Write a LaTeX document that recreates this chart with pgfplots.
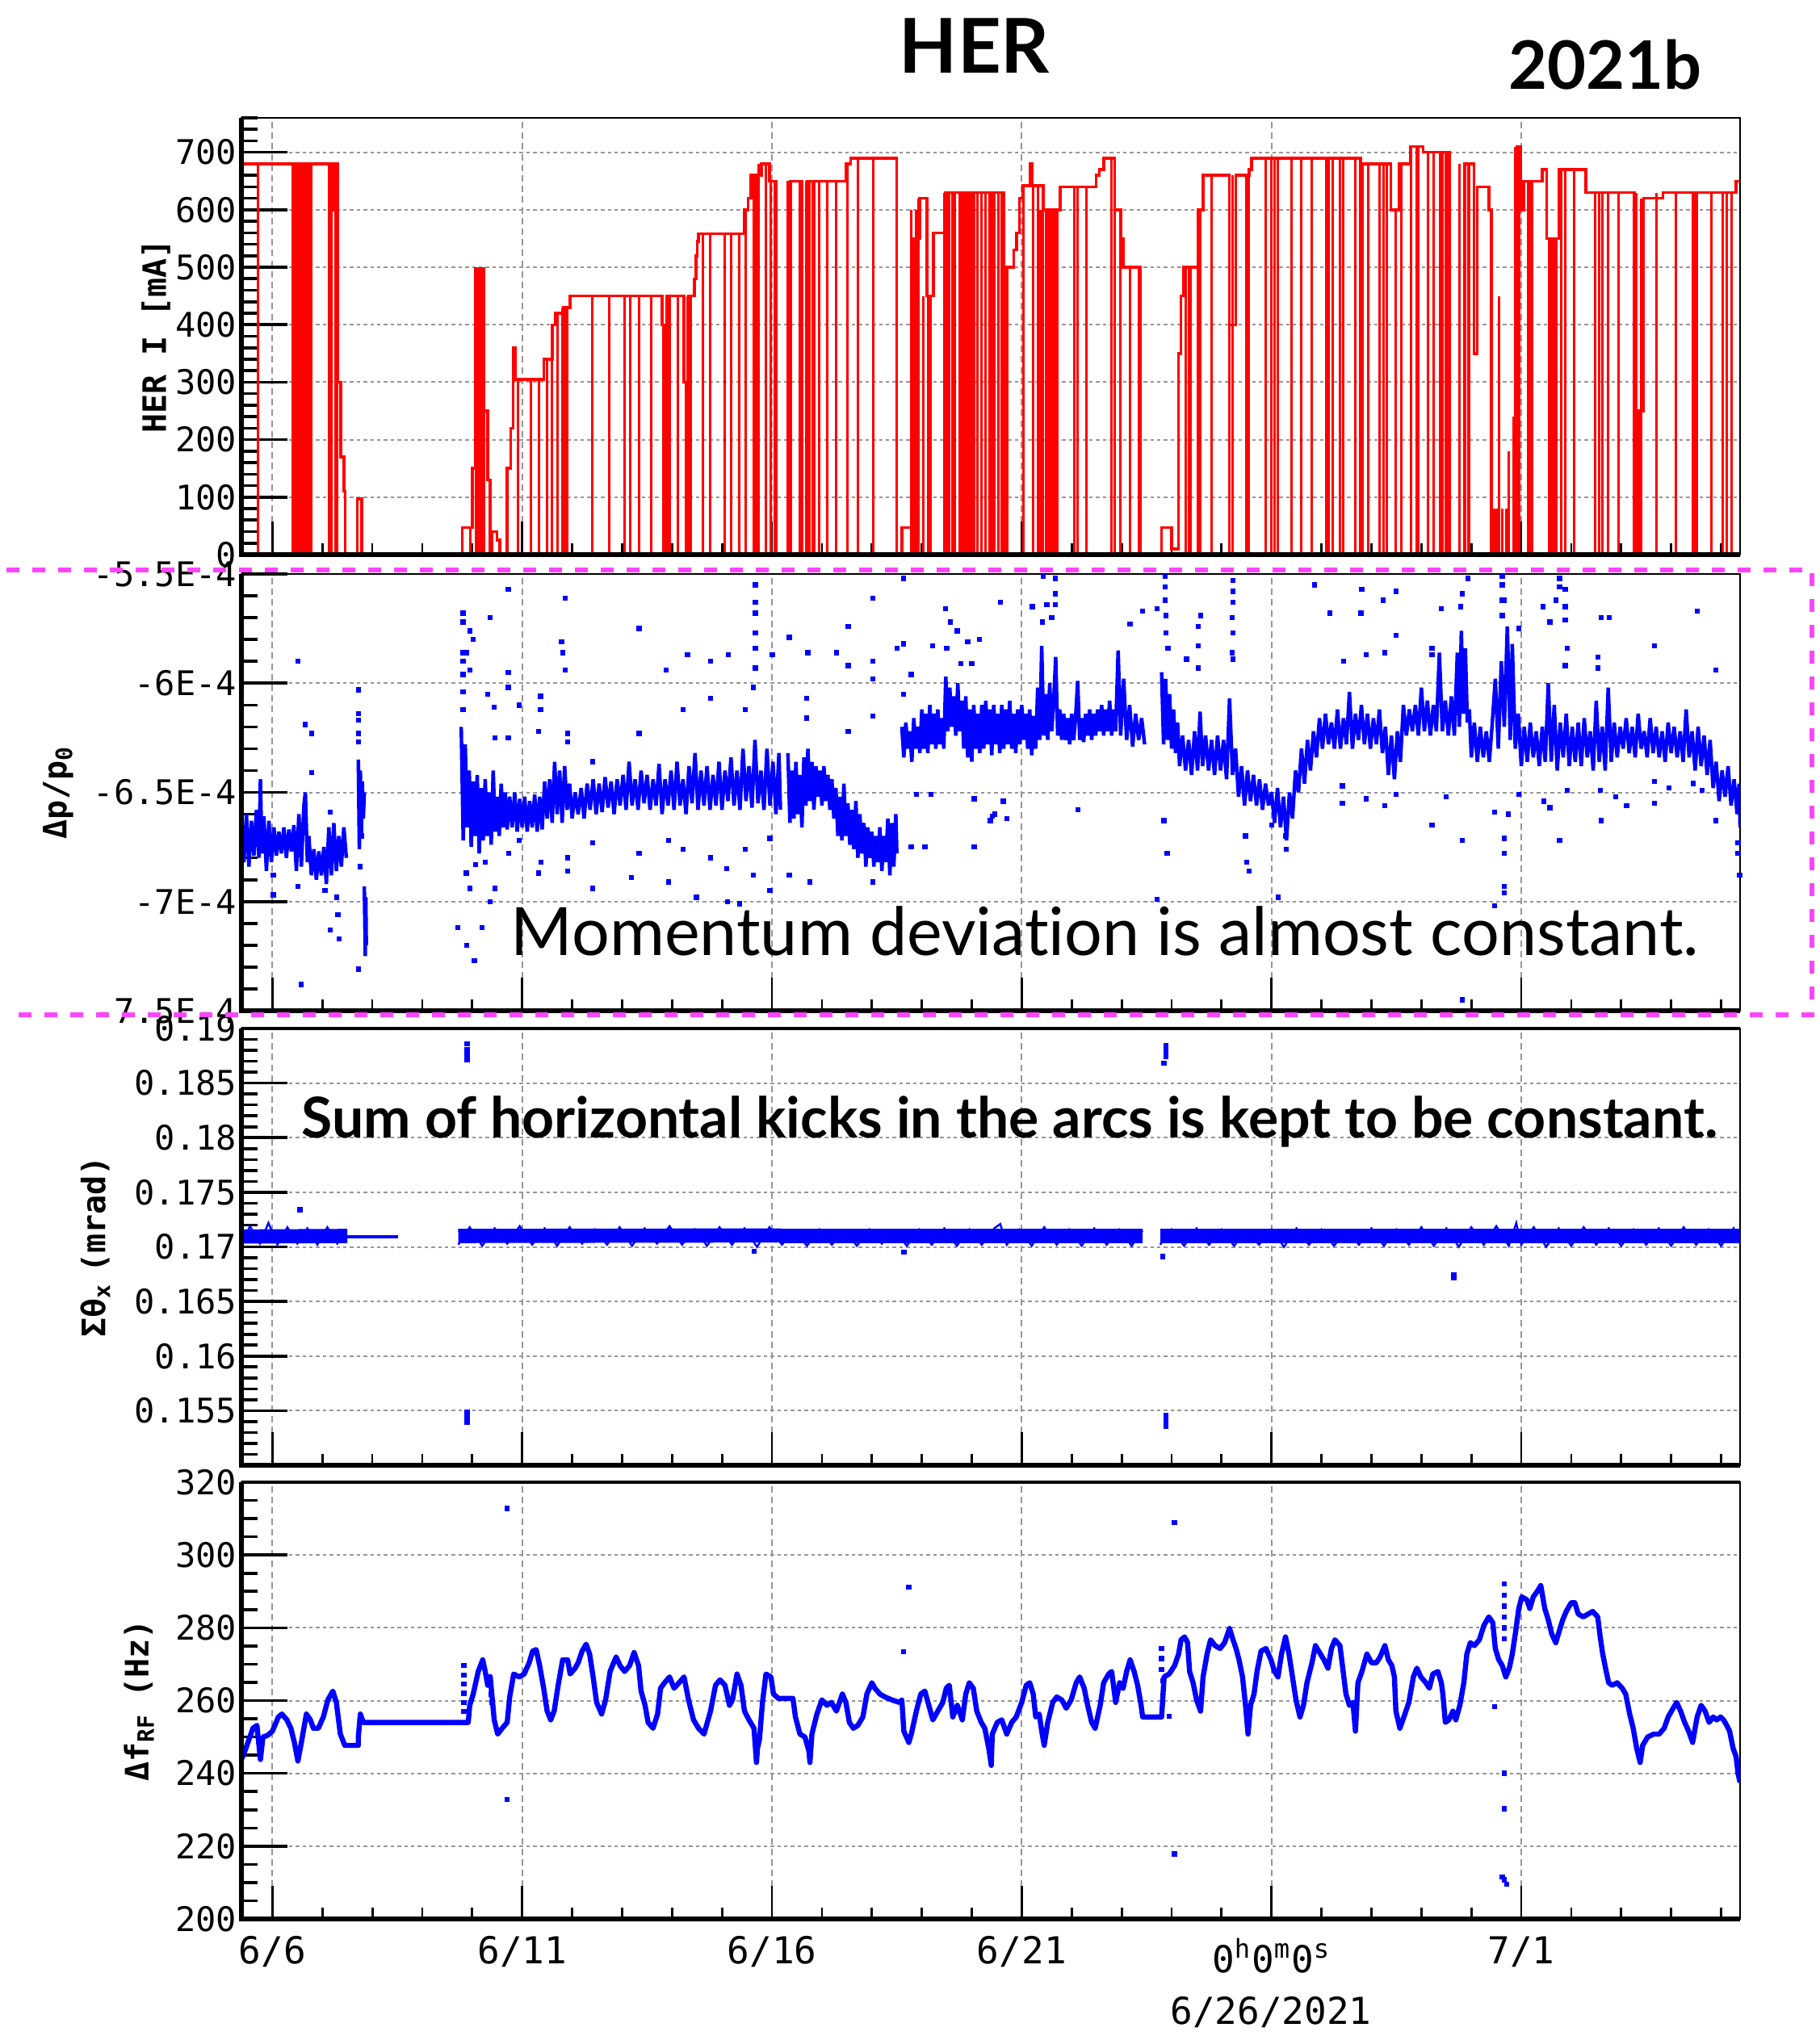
\documentclass[border=0pt]{standalone}
\usepackage{fontspec}
\usepackage{pgfplots}
\pgfplotsset{compat=1.18}
\newfontfamily\monofont{DejaVu Sans Mono}
\newfontfamily\latofont{Lato}[Ligatures=NoCommon]
\definecolor{gridgray}{RGB}{150,150,150}
\definecolor{boxmag}{RGB}{255,68,255}
\definecolor{herred}{RGB}{255,0,0}
\definecolor{herblue}{RGB}{0,0,255}

\pgfplotsset{
  herpanel/.style={
    scale only axis, width=464pt, height=135.25pt,
    xmin=-0.62, xmax=29.38,
    xtick={0,5,10,15,20,25},
    minor xtick={1,2,3,4,6,7,8,9,11,12,13,14,16,17,18,19,21,22,23,24,26,27,28,29},
    xtick pos=left, ytick pos=left, tick align=inside,
    xtick style={/pgfplots/major tick length=10.25pt, /pgfplots/minor tick length=3.6pt, line width=0.7pt, black},
    ytick style={/pgfplots/major tick length=14.25pt, /pgfplots/minor tick length=5pt, line width=0.9pt, black},
    xmajorgrids, ymajorgrids,
    x grid style={gridgray, line width=0.5pt, dash pattern=on 2pt off 1.3pt},
    y grid style={gridgray, line width=0.5pt, dash pattern=on 1.1pt off 1pt},
    axis line style={line width=0.6pt, black},
    xticklabels={},
    yticklabel style={font=\monofont\fontsize{10.5}{12}\selectfont, inner sep=0pt, xshift=-1.3pt},
    ylabel style={font=\monofont\bfseries\fontsize{10}{12}\selectfont, anchor=center},
  },
  outliers/.style={only marks, mark=square*, mark size=0.6pt, herblue, mark options={draw=herblue, fill=herblue}},
  band/.style={herblue, line width=1.1pt, line join=bevel, mark=none},
}

\begin{document}
\begin{tikzpicture}
\useasboundingbox (0,0) rectangle (563.25pt,-630.5pt);

% ---------------- beam current ----------------
\begin{axis}[herpanel, name=p1, at={(74.75pt,-36.5pt)}, anchor=north west,
  ymin=0, ymax=760, ytick={0,100,...,700}, yticklabels={0,100,200,300,400,500,600,700},
  minor ytick={20,40,...,760},
  ylabel={HER I [mA]}, ylabel style={at={(axis description cs:-0.0571,0.5)}}]
\addplot[const plot, herred, line width=0.85pt, mark=none] coordinates {
(-0.62,430) (-0.60,680) (0.73,0) (0.78,680) (1.16,600) (1.21,680) (1.31,300) (1.37,170)
(1.43,110) (1.46,0) (1.70,97) (1.79,0) (3.80,47) (4.00,150) (4.07,498) (4.24,250) (4.31,130)
(4.36,0) (4.40,40) (4.50,25) (4.55,0) (4.70,150) (4.77,220) (4.82,360) (4.87,305) (5.43,340)
(5.60,400) (5.67,420) (5.83,430) (5.96,450) (7.80,400) (7.85,0) (7.90,450) (8.24,300) (8.28,0)
(8.33,450) (8.45,480) (8.48,520) (8.50,545) (8.53,558) (9.45,600) (9.52,620) (9.58,660)
(9.79,680) (9.95,650) (10.08,0) (10.37,650) (10.60,0) (10.71,650) (11.48,680) (11.58,690)
(12.50,0) (12.60,47) (12.80,0) (12.84,550) (12.96,620) (13.10,450) (13.23,560) (13.47,630)
(14.36,630) (14.65,0) (14.70,500) (14.84,530) (14.90,560) (14.95,620) (15.02,642) (15.17,680)
(15.21,642) (15.43,600) (15.77,640) (16.49,660) (16.55,670) (16.64,690) (16.86,600) (16.98,550)
(17.03,500) (17.37,0) (17.80,47) (18.00,10) (18.14,350) (18.19,450) (18.24,500) (18.53,600)
(18.63,660) (19.16,400) (19.29,660) (19.55,670) (19.60,690) (21.78,680) (22.39,600) (22.56,680)
(22.78,710) (23.04,700) (23.57,0) (23.87,680) (24.05,350) (24.12,640) (24.35,600) (24.40,0)
(24.91,710) (24.98,600) (25.05,650) (25.42,670) (25.51,550) (25.76,670) (26.29,630) (27.26,0)
(27.35,250) (27.45,620) (27.84,630) (29.30,650) (29.38,650)
};
\addplot[ycomb, herred, line width=0.75pt, mark=none] coordinates {
(-0.29,680) (0.40,680) (0.43,680) (0.46,680) (0.49,680) (0.52,680) (0.55,680) (0.58,680)
(0.61,680) (0.64,680) (0.67,680) (0.70,680) (0.78,680) (1.14,680) (1.19,680) (1.26,680)
(1.29,680) (3.97,47) (4.08,498) (4.11,498) (4.14,498) (4.17,498) (4.20,498) (4.23,498)
(4.92,305) (5.18,305) (5.33,305) (5.50,340) (5.60,340) (5.70,420) (5.81,430) (5.86,430)
(5.91,430) (6.40,450) (7.17,450) (7.34,450) (7.58,450) (7.83,400) (7.95,450) (8.12,450)
(8.31,450) (8.38,450) (8.62,558) (8.77,558) (9.06,558) (9.19,558) (9.35,558) (9.47,600)
(9.64,660) (9.69,660) (9.74,680) (9.88,680) (9.98,650) (10.06,650) (10.32,650) (10.56,650)
(10.69,650) (10.75,650) (10.81,650) (10.85,650) (11.29,650) (11.51,680) (11.72,690) (12.02,690)
(12.50,690) (12.79,600) (12.89,600) (12.94,620) (13.03,450) (13.13,450) (13.18,450) (13.45,630)
(13.50,630) (13.55,630) (13.62,630) (13.66,630) (13.76,630) (13.80,630) (13.85,630) (13.90,630)
(13.95,630) (14.00,630) (14.05,630) (14.12,630) (14.20,630) (14.28,630) (14.35,630) (14.41,630)
(14.46,630) (14.53,630) (14.60,630) (15.04,642) (15.23,642) (15.33,642) (15.38,600) (15.43,600)
(15.48,600) (15.52,600) (15.57,600) (15.62,600) (15.67,600) (15.71,600) (16.06,640) (16.11,640)
(16.80,690) (16.86,690) (16.98,600) (17.17,500) (17.35,500) (18.28,500) (18.34,500) (18.38,500)
(18.53,600) (18.58,600) (18.80,660) (19.16,660) (19.22,660) (19.50,660) (19.55,670) (19.89,690)
(19.99,690) (20.06,690) (20.13,690) (20.81,690) (21.10,690) (21.15,690) (21.23,690) (21.37,690)
(21.44,690) (21.68,690) (21.78,690) (21.83,680) (21.93,680) (22.17,680) (22.24,680) (22.31,680)
(22.49,600) (22.60,680) (22.80,710) (22.90,710) (22.94,710) (23.14,700) (23.38,700) (23.43,700)
(23.48,700) (23.52,700) (23.57,700) (23.77,680) (23.94,680) (23.96,680) (24.45,80) (24.50,80)
(24.55,450) (24.62,80) (24.70,80) (24.75,180) (24.85,240) (24.88,710) (24.92,710) (24.96,710)
(25.13,650) (25.17,650) (25.22,650) (25.56,550) (25.61,550) (25.66,550) (25.71,550) (25.80,670)
(25.88,670) (26.48,630) (26.56,630) (26.63,630) (26.73,630) (27.31,630) (27.40,620) (28.43,630)
(28.48,630) (28.52,630) (29.03,630) (29.12,630) (29.21,630)
(2.40,0) (6.75,450) (7.05,450) (10.95,650) (11.10,650) (16.30,640) (20.40,690) (20.60,690)
(23.25,700) (26.05,670) (26.95,630) (27.70,630) (28.10,630) (28.80,630)
};
\end{axis}
\draw[line width=1.4pt] (p1.north west) -- (p1.south west) -- (p1.south east);

% ---------------- momentum deviation (units of 1E-4) ----------------
\begin{axis}[herpanel, name=p2, at={(74.75pt,-177.75pt)}, anchor=north west,
  ymin=-7.5, ymax=-5.5, ytick={-7.5,-7,-6.5,-6,-5.5},
  yticklabels={-7.5E-4,-7E-4,-6.5E-4,-6E-4,-5.5E-4},
  minor ytick={-7.5,-7.4,...,-5.5},
  ylabel={Δp/p\textsubscript{0}}, ylabel style={at={(axis description cs:-0.1223,0.5)}}]
\addplot[band] coordinates {
(-0.62,-6.62) (-0.57,-6.82) (-0.52,-6.60) (-0.47,-6.84) (-0.42,-6.63) (-0.37,-6.79) (-0.32,-6.58)
(-0.27,-6.80) (-0.24,-6.44) (-0.21,-6.78) (-0.17,-6.61) (-0.12,-6.86) (-0.07,-6.63) (-0.02,-6.82)
(0.03,-6.66) (0.08,-6.79) (0.13,-6.68) (0.18,-6.78) (0.23,-6.66) (0.28,-6.80) (0.33,-6.67)
(0.38,-6.77) (0.43,-6.65) (0.48,-6.86) (0.53,-6.60) (0.58,-6.84) (0.63,-6.56) (0.66,-6.50)
(0.70,-6.82) (0.73,-6.70) (0.78,-6.88) (0.83,-6.76) (0.88,-6.90) (0.93,-6.77) (0.98,-6.88)
(1.03,-6.75) (1.08,-6.92) (1.13,-6.66) (1.18,-6.88) (1.23,-6.64) (1.28,-6.86) (1.33,-6.70)
(1.38,-6.84) (1.43,-6.66) (1.48,-6.80)
};
\addplot[band] coordinates {
(1.72,-6.35) (1.74,-6.76) (1.76,-6.40) (1.78,-6.70) (1.80,-6.45) (1.82,-6.62) (1.84,-6.50)
};
\addplot[band] coordinates {
(1.84,-6.93) (1.86,-7.25) (1.87,-6.98) (1.88,-7.20)
};
\addplot[band] coordinates {
(3.78,-6.20) (3.82,-6.72) (3.86,-6.28) (3.90,-6.66) (3.94,-6.40) (3.98,-6.75) (4.02,-6.45)
(4.06,-6.70) (4.10,-6.42) (4.14,-6.78) (4.18,-6.48) (4.22,-6.72) (4.26,-6.44) (4.30,-6.70)
(4.34,-6.50) (4.38,-6.74) (4.42,-6.40) (4.46,-6.68) (4.50,-6.52) (4.54,-6.70) (4.58,-6.46)
(4.62,-6.66) (4.66,-6.50) (4.70,-6.67) (4.75,-6.52) (4.80,-6.66) (4.85,-6.50) (4.90,-6.68)
(4.95,-6.53) (5.00,-6.66) (5.05,-6.52) (5.10,-6.68) (5.15,-6.54) (5.20,-6.66) (5.25,-6.51)
(5.30,-6.68) (5.35,-6.52) (5.40,-6.67) (5.45,-6.45) (5.50,-6.62) (5.55,-6.44) (5.60,-6.64)
(5.65,-6.36) (5.70,-6.60) (5.75,-6.40) (5.80,-6.64) (5.85,-6.38) (5.90,-6.58) (5.95,-6.46)
(6.00,-6.62) (6.06,-6.50) (6.12,-6.60) (6.18,-6.48) (6.24,-6.62) (6.30,-6.46) (6.36,-6.58)
(6.42,-6.44) (6.48,-6.60) (6.54,-6.46) (6.60,-6.59) (6.66,-6.43) (6.72,-6.57) (6.78,-6.45)
(6.84,-6.60) (6.90,-6.44) (6.96,-6.56) (7.02,-6.42) (7.08,-6.58) (7.14,-6.36) (7.20,-6.56)
(7.26,-6.44) (7.32,-6.58) (7.38,-6.40) (7.44,-6.55) (7.50,-6.42) (7.56,-6.58) (7.62,-6.44)
(7.68,-6.56) (7.74,-6.37) (7.80,-6.60) (7.86,-6.44) (7.92,-6.56) (7.98,-6.40) (8.04,-6.58)
(8.10,-6.36) (8.16,-6.56) (8.22,-6.44) (8.28,-6.60) (8.34,-6.38) (8.40,-6.55) (8.46,-6.32)
(8.52,-6.58) (8.58,-6.40) (8.64,-6.56) (8.70,-6.38) (8.76,-6.58) (8.82,-6.42) (8.88,-6.56)
(8.94,-6.36) (9.00,-6.58) (9.06,-6.40) (9.12,-6.54) (9.18,-6.34) (9.24,-6.56) (9.30,-6.40)
(9.36,-6.58) (9.42,-6.30) (9.48,-6.54) (9.54,-6.38) (9.60,-6.57) (9.66,-6.26) (9.72,-6.55)
(9.78,-6.40) (9.84,-6.58) (9.90,-6.30) (9.96,-6.56) (10.02,-6.36) (10.08,-6.60) (10.14,-6.32)
(10.17,-6.58)
};
\addplot[band] coordinates {
(10.32,-6.32) (10.36,-6.64) (10.40,-6.40) (10.44,-6.62) (10.48,-6.36) (10.52,-6.60) (10.56,-6.42)
(10.60,-6.66) (10.64,-6.34) (10.68,-6.56) (10.72,-6.30) (10.76,-6.54) (10.80,-6.36) (10.84,-6.58)
(10.88,-6.38) (10.92,-6.52) (10.96,-6.40) (11.00,-6.56) (11.04,-6.38) (11.08,-6.54) (11.12,-6.42)
(11.16,-6.58) (11.20,-6.44) (11.24,-6.62) (11.28,-6.48) (11.32,-6.70) (11.36,-6.52) (11.40,-6.72)
(11.44,-6.46) (11.48,-6.70) (11.52,-6.55) (11.56,-6.74) (11.60,-6.58) (11.64,-6.76) (11.68,-6.54)
(11.72,-6.80) (11.76,-6.60) (11.80,-6.78) (11.84,-6.64) (11.88,-6.84) (11.92,-6.66) (11.96,-6.80)
(12.00,-6.68) (12.04,-6.84) (12.08,-6.70) (12.12,-6.82) (12.16,-6.66) (12.20,-6.86) (12.24,-6.70)
(12.28,-6.82) (12.32,-6.62) (12.36,-6.88) (12.40,-6.64) (12.44,-6.84) (12.48,-6.60) (12.50,-6.78)
};
\addplot[band] coordinates {
(12.60,-6.20) (12.64,-6.34) (12.68,-6.18) (12.72,-6.30) (12.76,-6.22) (12.80,-6.36) (12.84,-6.16)
(12.88,-6.30) (12.92,-6.20) (12.96,-6.32) (13.00,-6.12) (13.04,-6.30) (13.08,-6.14) (13.12,-6.32)
(13.16,-6.10) (13.20,-6.28) (13.24,-6.14) (13.28,-6.30) (13.32,-6.12) (13.36,-6.28) (13.40,-6.16)
(13.44,-6.30) (13.48,-5.97) (13.52,-6.22) (13.56,-6.02) (13.60,-6.20) (13.64,-6.06) (13.68,-6.24)
(13.72,-6.00) (13.76,-6.22) (13.80,-6.08) (13.84,-6.30) (13.88,-6.06) (13.92,-6.34) (13.96,-6.12)
(14.00,-6.36) (14.04,-6.10) (14.08,-6.30) (14.12,-6.14) (14.16,-6.32) (14.20,-6.10) (14.24,-6.30)
(14.28,-6.08) (14.32,-6.28) (14.36,-6.12) (14.40,-6.33) (14.44,-6.10) (14.48,-6.28) (14.52,-6.14)
(14.56,-6.32) (14.60,-6.10) (14.64,-6.30) (14.68,-6.12) (14.72,-6.28) (14.76,-6.08) (14.80,-6.30)
(14.84,-6.14) (14.88,-6.32) (14.92,-6.12) (14.96,-6.28) (15.00,-6.10) (15.04,-6.26) (15.08,-6.14)
(15.12,-6.30) (15.16,-6.12) (15.20,-6.33) (15.24,-6.15) (15.28,-6.30) (15.32,-6.02) (15.36,-6.26)
(15.40,-5.83) (15.44,-6.24) (15.48,-6.05) (15.52,-6.26) (15.56,-6.00) (15.60,-6.22) (15.64,-6.08)
(15.68,-5.88) (15.72,-6.24) (15.76,-6.12) (15.80,-6.26) (15.84,-6.14) (15.88,-6.26) (15.92,-6.16)
(15.96,-6.28) (16.00,-6.14) (16.04,-6.26) (16.08,-6.15) (16.12,-5.99) (16.16,-6.26) (16.20,-6.16)
(16.24,-6.27) (16.28,-6.14) (16.32,-6.24) (16.36,-6.12) (16.40,-6.26) (16.44,-6.14) (16.48,-6.24)
(16.52,-6.12) (16.56,-6.22) (16.60,-6.10) (16.64,-6.24) (16.68,-6.12) (16.72,-6.22) (16.76,-6.08)
(16.80,-6.24) (16.84,-6.12) (16.88,-6.22) (16.93,-5.85) (16.98,-6.24) (17.04,-5.98) (17.10,-6.26)
(17.16,-6.10) (17.22,-6.29) (17.28,-6.14) (17.34,-6.26) (17.40,-6.16) (17.46,-6.28)
};
\addplot[band] coordinates {
(17.80,-5.95) (17.84,-6.28) (17.88,-5.98) (17.92,-6.26) (17.96,-6.05) (18.00,-6.30) (18.04,-6.12)
(18.08,-6.32) (18.12,-6.18) (18.16,-6.38) (18.22,-6.24) (18.28,-6.40) (18.34,-6.26) (18.40,-6.42)
(18.46,-6.22) (18.52,-6.40) (18.57,-6.13) (18.62,-6.38) (18.68,-6.24) (18.74,-6.40) (18.80,-6.26)
(18.86,-6.42) (18.92,-6.24) (18.98,-6.40) (19.04,-6.26) (19.10,-6.44) (19.16,-6.07) (19.22,-6.42)
(19.28,-6.30) (19.34,-6.52) (19.40,-6.38) (19.46,-6.56) (19.52,-6.40) (19.58,-6.54) (19.64,-6.42)
(19.70,-6.56) (19.76,-6.44) (19.82,-6.58) (19.88,-6.46) (19.94,-6.56) (20.00,-6.50) (20.06,-6.64)
(20.12,-6.48) (20.18,-6.66) (20.24,-6.52) (20.30,-6.72) (20.36,-6.50) (20.42,-6.62) (20.48,-6.40)
(20.54,-6.50) (20.60,-6.30) (20.66,-6.46) (20.72,-6.26) (20.78,-6.40) (20.84,-6.22) (20.90,-6.34)
(20.96,-6.16) (21.02,-6.30) (21.08,-6.14) (21.14,-6.28) (21.20,-6.18) (21.26,-6.30) (21.32,-6.12)
(21.38,-6.30) (21.44,-6.16) (21.50,-6.28) (21.56,-6.04) (21.62,-6.30) (21.68,-6.14) (21.74,-6.26)
(21.80,-6.10) (21.86,-6.28) (21.92,-6.14) (21.98,-6.30) (22.04,-6.16) (22.10,-6.28) (22.16,-6.12)
(22.22,-6.32) (22.28,-6.20) (22.34,-6.42) (22.40,-6.24) (22.46,-6.44) (22.52,-6.22) (22.58,-6.36)
(22.64,-6.10) (22.70,-6.24) (22.76,-6.12) (22.82,-6.22) (22.88,-6.10) (22.94,-6.24) (23.00,-6.02)
(23.06,-6.22) (23.12,-6.08) (23.18,-6.24) (23.24,-6.10) (23.30,-6.22) (23.36,-5.86) (23.42,-6.22)
(23.48,-6.08) (23.54,-6.24) (23.60,-6.06) (23.66,-6.24) (23.72,-5.86) (23.76,-6.20) (23.80,-5.76)
(23.84,-6.14) (23.88,-5.84) (23.92,-6.18) (23.96,-6.12) (24.00,-6.34) (24.06,-6.18) (24.12,-6.36)
(24.18,-6.20) (24.24,-6.34) (24.30,-6.22) (24.36,-6.36) (24.42,-6.18) (24.48,-5.98) (24.54,-6.30)
(24.60,-5.90) (24.66,-6.20) (24.72,-5.74) (24.78,-6.26) (24.82,-5.82) (24.88,-6.30) (24.94,-6.14)
(25.00,-6.38) (25.06,-6.20) (25.12,-6.36) (25.18,-6.18) (25.24,-6.34) (25.30,-6.22) (25.36,-6.38)
(25.42,-6.20) (25.48,-6.36) (25.54,-6.00) (25.60,-6.36) (25.66,-6.10) (25.72,-6.40) (25.78,-6.18)
(25.84,-6.34) (25.90,-6.14) (25.96,-6.38) (26.02,-6.20) (26.08,-6.36) (26.14,-6.18) (26.20,-6.38)
(26.26,-6.16) (26.32,-6.34) (26.38,-6.22) (26.44,-6.40) (26.50,-6.08) (26.56,-6.36) (26.62,-6.20)
(26.68,-6.40) (26.74,-6.02) (26.80,-6.36) (26.86,-6.18) (26.92,-6.34) (26.98,-6.20) (27.04,-6.30)
(27.10,-6.16) (27.16,-6.32) (27.22,-6.20) (27.28,-6.34) (27.34,-6.14) (27.40,-6.30) (27.46,-6.22)
(27.52,-6.34) (27.58,-6.16) (27.64,-6.32) (27.70,-6.20) (27.76,-6.34) (27.82,-6.22) (27.88,-6.36)
(27.94,-6.18) (28.00,-6.32) (28.06,-6.20) (28.12,-6.34) (28.18,-6.22) (28.24,-6.36) (28.30,-6.12)
(28.36,-6.34) (28.42,-6.22) (28.48,-6.40) (28.54,-6.20) (28.60,-6.38) (28.66,-6.24) (28.72,-6.42)
(28.78,-6.26) (28.84,-6.48) (28.90,-6.36) (28.96,-6.54) (29.02,-6.40) (29.08,-6.52) (29.14,-6.38)
(29.20,-6.56) (29.26,-6.44) (29.32,-6.60) (29.36,-6.46) (29.38,-6.66)
};
\addplot[outliers] coordinates {
(0.51,-5.90) (0.66,-6.19) (0.79,-6.23) (0.79,-6.41) (0.02,-6.88) (0.02,-6.97) (0.58,-7.38)
(0.51,-6.93) (1.16,-6.59) (1.05,-6.95) (1.29,-6.98) (1.31,-7.06) (1.16,-7.13) (1.34,-7.17)
(1.72,-6.03) (1.72,-6.14) (1.72,-6.17) (1.72,-6.23) (1.72,-6.27) (1.72,-7.31) (1.76,-6.84)
(1.79,-6.70) (3.82,-5.68) (3.82,-5.72) (3.82,-5.86) (3.82,-5.90) (3.82,-5.96) (3.82,-6.04)
(3.82,-6.12) (3.95,-5.76) (4.02,-5.80) (3.88,-5.86) (3.95,-5.94) (4.31,-6.05) (4.36,-5.70)
(4.44,-6.11) (4.46,-6.25) (4.72,-5.57) (4.72,-5.95) (4.72,-6.02) (4.72,-6.25) (4.94,-6.10)
(5.37,-6.06) (5.37,-6.12) (5.33,-6.22) (5.86,-5.61) (5.79,-5.81) (5.81,-5.86) (5.86,-5.94)
(5.91,-6.23) (5.91,-6.27) (4.46,-6.94) (3.95,-6.94) (4.36,-7.00) (4.04,-7.27) (3.89,-7.20)
(3.71,-7.12) (4.20,-7.12) (3.88,-6.87) (4.07,-6.83) (4.26,-6.82) (4.73,-6.78) (4.94,-6.72)
(5.33,-6.87) (5.38,-6.82) (5.91,-6.80) (5.91,-6.86) (6.41,-6.94) (6.41,-6.73) (6.41,-6.36)
(7.19,-6.89) (7.34,-6.78) (7.34,-6.23) (7.34,-5.75) (7.88,-5.94) (7.93,-6.91) (7.93,-6.72)
(8.31,-5.87) (8.22,-6.12) (8.22,-6.76) (8.49,-6.98) (8.77,-5.90) (8.77,-6.07) (8.77,-6.80)
(9.13,-5.87) (9.09,-6.85) (9.11,-7.00) (9.35,-7.01) (9.47,-6.12) (9.47,-6.76) (9.67,-5.55)
(9.67,-5.63) (9.67,-5.68) (9.67,-5.77) (9.67,-5.84) (9.67,-5.93) (9.63,-6.02) (9.63,-6.88)
(9.96,-6.95) (9.96,-6.71) (10.01,-5.87) (10.35,-5.79) (10.35,-6.88) (10.69,-6.07) (10.69,-6.16)
(10.76,-6.91) (10.72,-5.86) (11.29,-5.86) (11.53,-5.74) (11.53,-5.92) (11.53,-6.22) (12.02,-5.61)
(12.02,-5.90) (12.02,-5.98) (12.02,-6.15) (12.02,-6.91) (12.63,-5.52) (12.63,-5.82) (12.50,-5.84)
(12.63,-6.05) (12.79,-5.96) (13.06,-6.75) (12.79,-6.75) (13.47,-5.66) (13.57,-5.72) (13.71,-5.76)
(13.22,-5.83) (13.50,-5.84) (13.92,-5.81) (14.15,-5.80) (13.78,-5.91) (14.00,-5.91) (14.05,-6.75)
(14.05,-6.53) (14.37,-6.63) (13.18,-6.51) (12.89,-6.51)
(15.43,-5.51) (15.67,-5.52) (15.67,-5.59) (15.67,-5.64) (15.21,-5.65) (15.50,-5.64) (14.57,-5.63)
(15.60,-5.70) (15.41,-5.72) (17.17,-5.73) (17.42,-5.67) (17.71,-5.66) (17.87,-5.51) (17.87,-5.56)
(17.87,-5.62) (17.89,-5.69) (17.89,-5.77) (17.93,-5.84) (18.58,-5.69) (18.53,-5.74) (18.53,-5.83)
(18.30,-5.89) (18.53,-5.93) (19.23,-5.53) (19.23,-5.58) (19.23,-5.63) (19.21,-5.70) (19.23,-5.77)
(19.21,-5.86) (19.23,-5.89) (20.86,-5.55) (21.17,-5.68) (21.81,-5.57) (21.79,-5.68) (22.24,-5.62)
(22.49,-5.58) (21.44,-5.90) (21.90,-5.87) (22.49,-5.78) (22.27,-5.86) (23.40,-5.66) (23.79,-5.65)
(23.82,-5.59) (23.93,-5.52) (23.21,-5.84) (23.21,-5.87) (24.62,-5.51) (24.62,-5.55) (24.62,-5.62)
(24.62,-5.69) (24.66,-5.62) (24.95,-5.75) (25.44,-5.65) (25.57,-5.72) (25.69,-5.62) (25.77,-5.52)
(25.77,-5.56) (25.88,-5.57) (25.88,-5.65) (25.88,-5.71) (25.92,-5.84) (25.88,-5.92) (26.60,-5.70)
(26.76,-5.70) (27.67,-5.83) (28.52,-5.67) (28.89,-5.94) (26.53,-5.88) (26.53,-5.93)
(14.41,-6.61) (14.70,-6.62) (14.46,-6.60) (14.63,-6.54) (16.13,-6.58) (17.85,-6.63) (17.91,-6.78)
(17.71,-6.99) (19.48,-6.70) (19.50,-6.82) (19.55,-6.86) (20.00,-6.65) (20.28,-6.70) (20.30,-6.76)
(20.13,-6.98) (21.42,-6.47) (21.42,-6.55) (21.90,-6.53) (22.27,-6.56) (22.49,-6.51) (23.21,-6.65)
(23.50,-6.52) (23.82,-6.72) (24.47,-6.59) (24.66,-6.71) (24.66,-6.78) (24.66,-6.93) (24.66,-6.96)
(24.47,-7.02) (24.74,-6.60) (24.95,-6.51) (25.45,-6.54) (25.57,-6.57) (25.77,-6.72) (25.92,-6.49)
(26.60,-6.63) (26.58,-6.49) (26.89,-6.52) (27.11,-6.56) (27.67,-6.55) (27.67,-6.45) (27.96,-6.48)
(28.44,-6.46) (28.62,-6.49) (28.89,-6.63) (29.34,-6.73) (29.37,-6.88) (29.34,-6.78) (23.82,-7.45)
};
\end{axis}
\draw[line width=1.4pt] (p2.north west) -- (p2.south west) -- (p2.south east);

% ---------------- sum of horizontal kicks ----------------
\begin{axis}[herpanel, name=p3, at={(74.75pt,-318.5pt)}, anchor=north west,
  ymin=0.15, ymax=0.19, ytick={0.155,0.16,0.165,0.17,0.175,0.18,0.185,0.19},
  yticklabels={0.155,0.16,0.165,0.17,0.175,0.18,0.185,0.19},
  minor ytick={0.151,0.152,...,0.19},
  ylabel={Σθ\textsubscript{x}\,\,(mrad)}, ylabel style={at={(axis description cs:-0.0975,0.5)}}]
\addplot[herblue, line width=4.4pt, mark=none] coordinates {(-0.62,0.17095) (1.50,0.1710)};
\addplot[herblue, line width=1pt, mark=none] coordinates {(1.50,0.1709) (2.52,0.1709)};
\addplot[herblue, line width=4.4pt, mark=none] coordinates {(3.72,0.1710) (10.15,0.17105) (10.20,0.1710) (17.42,0.1710)};
\addplot[herblue, line width=4.4pt, mark=none] coordinates {(17.77,0.1710) (29.38,0.1710)};
\addplot[herblue, line width=0.6pt, mark=none] coordinates {
(-0.62,0.1702) (-0.45,0.1719) (-0.25,0.1703) (-0.08,0.1722) (0.10,0.1702) (0.30,0.1718) (0.50,0.1703)
(0.70,0.1717) (0.90,0.1702) (1.10,0.1718) (1.30,0.1703) (1.48,0.1716)
};
\addplot[herblue, line width=0.6pt, mark=none] coordinates {
(3.72,0.1702) (3.95,0.1718) (4.20,0.1701) (4.45,0.1717) (4.70,0.1703) (4.95,0.1719) (5.20,0.1702)
(5.45,0.1717) (5.70,0.1701) (5.95,0.1718) (6.20,0.1703) (6.45,0.1716) (6.70,0.1702) (6.95,0.1718)
(7.20,0.1701) (7.45,0.1717) (7.70,0.1703) (7.95,0.1719) (8.20,0.1702) (8.45,0.1716) (8.70,0.1701)
(8.95,0.1718) (9.20,0.1702) (9.45,0.1717) (9.70,0.1700) (9.95,0.1718) (10.20,0.1702) (10.45,0.1715)
(10.70,0.1701) (10.95,0.1716) (11.20,0.1702) (11.45,0.1715) (11.70,0.1701) (11.95,0.1716)
(12.20,0.1703) (12.45,0.1715) (12.70,0.1701) (12.95,0.1716) (13.20,0.1702) (13.45,0.1717)
(13.70,0.1701) (13.95,0.1716) (14.20,0.1702) (14.45,0.1717) (14.57,0.1721) (14.70,0.1702)
(14.95,0.1716) (15.20,0.1701) (15.45,0.1718) (15.70,0.1702) (15.95,0.1716) (16.20,0.1701)
(16.45,0.1717) (16.70,0.1702) (16.95,0.1716) (17.20,0.1701) (17.42,0.1715)
};
\addplot[herblue, line width=0.6pt, mark=none] coordinates {
(17.77,0.1702) (18.00,0.1716) (18.25,0.1701) (18.50,0.1717) (18.75,0.1702) (19.00,0.1716)
(19.25,0.1701) (19.50,0.1715) (19.75,0.1702) (20.00,0.1716) (20.25,0.1700) (20.50,0.1717)
(20.75,0.1702) (21.00,0.1716) (21.25,0.1701) (21.50,0.1715) (21.75,0.1702) (22.00,0.1717)
(22.25,0.1701) (22.50,0.1716) (22.75,0.1702) (23.00,0.1718) (23.25,0.1701) (23.50,0.1717)
(23.75,0.1700) (24.00,0.1718) (24.25,0.1702) (24.50,0.1719) (24.75,0.1701) (24.90,0.1722)
(25.00,0.1702) (25.25,0.1718) (25.50,0.1700) (25.75,0.1717) (26.00,0.1701) (26.25,0.1718)
(26.50,0.1702) (26.75,0.1717) (27.00,0.1701) (27.25,0.1716) (27.50,0.1702) (27.75,0.1717)
(28.00,0.1701) (28.25,0.1718) (28.50,0.1702) (28.75,0.1716) (29.00,0.1701) (29.25,0.1717)
(29.38,0.1703)
};
\addplot[outliers] coordinates {
(0.55,0.1734) (3.90,0.1886) (3.90,0.1881) (3.90,0.1876) (3.90,0.1871) (3.90,0.1549) (3.90,0.1544)
(3.90,0.1539) (17.89,0.1884) (17.89,0.1879) (17.89,0.1874) (17.85,0.1868) (17.89,0.1546)
(17.89,0.1541) (17.89,0.1536) (9.64,0.1696) (12.64,0.1695) (17.82,0.1691) (23.65,0.1672)
(23.65,0.1674)
};
\end{axis}
\draw[line width=1.4pt] (p3.north west) -- (p3.south west) -- (p3.south east);
\draw[line width=0.9pt] (p3.north west) -- (p3.north east);

% ---------------- RF frequency shift ----------------
\begin{axis}[herpanel, name=p4, at={(74.75pt,-459pt)}, anchor=north west,
  ymin=200, ymax=320, ytick={200,220,...,320},
  yticklabels={200,220,240,260,280,300,320},
  minor ytick={200,205,...,320},
  xticklabels={6/6,6/11,6/16,6/21,{\raisebox{-2.75pt}{0\textsuperscript{h}0\textsuperscript{m}0\textsuperscript{s}}},7/1},
  xticklabel style={font=\monofont\fontsize{11.5}{13}\selectfont, anchor=base, yshift=-13.75pt},
  ylabel={Δf\textsubscript{RF}\,\,\,(Hz)}, ylabel style={at={(axis description cs:-0.0684,0.5)}}]
\addplot[herblue, line width=1.6pt, line join=round, mark=none] coordinates {
(-0.62,243.8) (-0.53,246.9) (-0.39,252.4) (-0.31,253.2) (-0.24,243.8) (-0.19,250) (-0.10,250.4)
(0.00,251.6) (0.12,255.5) (0.19,256.3) (0.29,254.7) (0.37,252.4) (0.44,248.5) (0.51,243.4)
(0.58,248.5) (0.68,256.3) (0.76,254.7) (0.82,252.4) (0.92,252.4) (1.02,255.5) (1.11,260.2)
(1.21,262.6) (1.28,259.5) (1.36,250.8) (1.45,247.7) (1.72,247.7) (1.72,250) (1.76,256.3)
(1.82,254) (3.92,254) (3.95,258.7) (4.02,261.8) (4.12,268) (4.21,271.2) (4.26,268) (4.31,264.2)
(4.36,266.6) (4.44,254.7) (4.51,250.8) (4.60,252.4) (4.70,254) (4.75,261) (4.83,267.3)
(4.94,266.5) (5.04,267.3) (5.14,270.4) (5.21,273.6) (5.28,274) (5.35,269.6) (5.43,263.4)
(5.50,257.1) (5.57,254.7) (5.64,257.1) (5.72,264.2) (5.81,271.2) (5.91,271.2) (5.96,267.3)
(6.06,268.9) (6.12,270.4) (6.20,273.6) (6.28,275.5) (6.35,272.8) (6.42,266.5) (6.49,259.5)
(6.59,256.3) (6.67,260.2) (6.76,268) (6.88,272) (6.96,269.6) (7.05,268) (7.15,269.6) (7.24,273.2)
(7.33,269.6) (7.38,262.6) (7.46,258.7) (7.52,254) (7.62,252.4) (7.71,256.3) (7.77,263.4)
(7.85,264.9) (7.95,266.5) (8.04,263.4) (8.14,264.9) (8.24,266.5) (8.33,260.2) (8.43,254.7)
(8.53,252.4) (8.64,250.8) (8.77,257.1) (8.87,264.2) (8.96,265.7) (9.06,264.2) (9.15,258.7)
(9.21,260.2) (9.30,267.3) (9.38,264.2) (9.45,257.1) (9.54,254.7) (9.64,252.4) (9.69,243)
(9.71,246.9) (9.75,249.3) (9.81,259.5) (9.88,267.3) (9.98,266.5) (10.03,261.8) (10.13,260.6)
(10.42,260.6) (10.47,255.5) (10.56,250.8) (10.66,250) (10.74,246.1) (10.76,243) (10.80,250.8)
(10.90,256.3) (11.00,260.2) (11.10,258.7) (11.19,259.5) (11.29,257.1) (11.41,261.8) (11.48,259.5)
(11.55,254) (11.63,252.4) (11.72,253.2) (11.82,255.5) (11.90,261.8) (12.00,264.9) (12.06,263.4)
(12.16,261.8) (12.26,261) (12.40,260.2) (12.55,259.5) (12.60,260.2) (12.64,251.6) (12.74,248.5)
(12.79,250.8) (12.89,257.1) (12.98,261.8) (13.06,262.6) (13.14,258.7) (13.22,254.7) (13.32,257.1)
(13.42,259.5) (13.49,263.4) (13.55,264.2) (13.62,255.5) (13.71,258.7) (13.81,254.7) (13.88,261.8)
(13.95,264.9) (14.03,263.4) (14.10,257.1) (14.19,254) (14.26,252.4) (14.34,246.9) (14.39,242.2)
(14.41,250.8) (14.51,254) (14.60,254.7) (14.70,250.8) (14.80,254) (14.89,255.5) (15.00,259.5)
(15.09,264.2) (15.16,264.9) (15.23,261.8) (15.28,255.5) (15.35,256.3) (15.41,250.8) (15.45,247.7)
(15.52,254) (15.62,259.5) (15.70,261) (15.80,260.2) (15.89,257.9) (15.99,260.2) (16.09,264.9)
(16.16,266.5) (16.25,263.4) (16.32,258.7) (16.40,254) (16.47,252.4) (16.57,258.7) (16.64,264.9)
(16.74,267.3) (16.80,268) (16.88,259.5) (16.96,264.9) (17.03,263.4) (17.10,268) (17.17,271.2)
(17.25,268) (17.32,264.2) (17.39,258.7) (17.42,255.5) (17.80,255.5) (17.85,266.5) (17.95,267.3)
(18.06,269.6) (18.14,272.8) (18.19,276.7) (18.26,277.5) (18.32,275.9) (18.36,268) (18.43,264.9)
(18.50,260.2) (18.58,257.1) (18.63,266.5) (18.71,272.8) (18.78,276.7) (18.87,275.1) (18.97,274.3)
(19.06,275.9) (19.16,279.8) (19.23,276.7) (19.29,274.3) (19.35,271.2) (19.42,266.5) (19.48,258.7)
(19.53,250.8) (19.58,258.7) (19.65,261.8) (19.71,268) (19.79,273.6) (19.89,274.3) (19.99,271.2)
(20.06,268) (20.13,266.5) (20.20,272.8) (20.28,277.5) (20.35,272.8) (20.42,266.5) (20.49,260.2)
(20.57,255.5) (20.64,258.7) (20.71,264.9) (20.81,270.4) (20.88,275.1) (20.98,272.8) (21.05,271.2)
(21.13,268.9) (21.20,274.3) (21.27,276.7) (21.37,275.1) (21.42,269.6) (21.49,261.8) (21.56,258.7)
(21.63,259.5) (21.68,251.6) (21.73,264.9) (21.81,268) (21.91,272.8) (22.00,270.4) (22.10,270.4)
(22.17,271.9) (22.27,275.1) (22.34,271.2) (22.41,269.6) (22.46,266.5) (22.49,257.1) (22.57,252.4)
(22.65,255.5) (22.75,259.5) (22.84,266.5) (22.91,268.9) (22.99,266.5) (23.09,264.9) (23.16,263.4)
(23.23,267.3) (23.33,268) (23.40,264.9) (23.43,261.8) (23.48,254) (23.55,254.7) (23.63,257.1)
(23.69,254.7) (23.77,258.7) (23.85,264.9) (23.91,272.8) (23.98,275.9) (24.06,275.1) (24.16,276.7)
(24.25,280.6) (24.35,283) (24.43,281.4) (24.48,274.3) (24.55,271.2) (24.62,269.6) (24.69,266.5)
(24.76,268.9) (24.82,272.8) (24.88,278.3) (24.95,285.3) (25.01,288.5) (25.11,287.7) (25.17,285.3)
(25.24,288.5) (25.32,290) (25.39,291.6) (25.47,285.3) (25.54,282.2) (25.61,278.3) (25.69,275.9)
(25.76,279.1) (25.83,282.2) (25.90,284.5) (26.00,286.9) (26.07,286.9) (26.14,283.8) (26.24,283)
(26.34,283.8) (26.43,284.5) (26.53,283) (26.58,277.5) (26.63,272.8) (26.70,268) (26.75,264.9)
(26.82,264.2) (26.92,264.9) (27.02,263.4) (27.09,261.8) (27.17,256.3) (27.24,252.4) (27.31,246.9)
(27.38,243) (27.43,247.7) (27.53,250) (27.65,250.8) (27.76,250.8) (27.86,252.4) (27.94,255.5)
(28.04,257.9) (28.11,259.5) (28.19,257.1) (28.27,254) (28.35,251.6) (28.43,248.5) (28.48,252.4)
(28.52,255.5) (28.60,258.7) (28.68,257.1) (28.76,254) (28.84,255.5) (28.91,254.7) (28.99,255.5)
(29.05,254.7) (29.12,253) (29.17,251.6) (29.24,246.9) (29.30,244.6) (29.34,239.9) (29.38,237.5)
};
\addplot[outliers] coordinates {
(3.83,269.6) (3.83,267) (3.83,264.5) (3.83,262) (3.83,259.5) (3.83,257) (4.38,261.8) (4.40,259.5)
(4.70,312.8) (4.70,232.8) (12.74,291.2) (12.63,273.4) (17.80,274.3) (17.80,271.5) (17.80,268.5)
(17.82,265.5) (17.95,255.7) (18.06,308.9) (18.06,217.9) (24.47,258.4) (24.66,292) (24.66,289)
(24.66,286) (24.66,283) (24.66,280) (24.66,277) (24.66,240) (24.66,230.3) (24.62,211.6)
(24.66,210.8) (24.71,209.6)
};
\end{axis}
\draw[line width=1.4pt] (p4.north west) -- (p4.south west) -- (p4.south east);
\draw[line width=0.9pt] (p4.north west) -- (p4.north east);

% date under the midnight tick
\node[font=\monofont\fontsize{11.5}{13}\selectfont, anchor=base] at (393.5pt,-626.75pt) {6/26/2021};

% titles and notes
\node[font=\latofont\bfseries\fontsize{23.4}{26}\selectfont] at (301.75pt,-14.1pt) {HER};
\node[font=\latofont\bfseries\fontsize{20.7}{24}\selectfont] at (497pt,-20pt) {2021b};
\node[anchor=base west, inner sep=0pt] at (158pt,-295.75pt)
  {\resizebox{367.75pt}{!}{\latofont\fontsize{19.2}{22}\selectfont Momentum deviation is almost constant.}};
\node[anchor=base west, inner sep=0pt] at (93.25pt,-352.25pt)
  {\resizebox{438.25pt}{!}{\latofont\bfseries\fontsize{15.4}{18}\selectfont Sum of horizontal kicks in the arcs is kept to be constant.}};

% highlight frame round the momentum panel
\draw[boxmag, line width=1.4pt, dash pattern=on 4pt off 4pt]
  (2pt,-176.5pt) -- (561pt,-176.5pt) -- (561pt,-314.25pt) -- (2pt,-314.25pt);
\end{tikzpicture}
\end{document}
